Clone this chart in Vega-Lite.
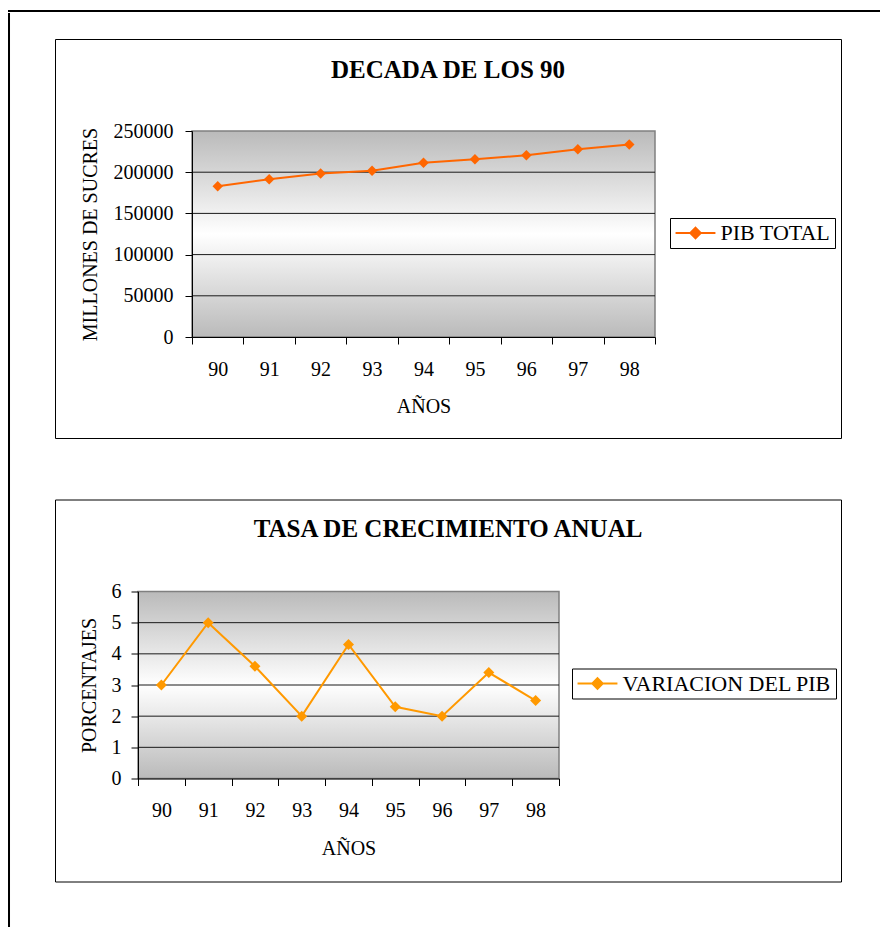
{
  "$schema": "https://vega.github.io/schema/vega-lite/v6.json",
  "background": "white",
  "padding": {"left": 8, "top": 10, "right": 0, "bottom": 0},
  "datasets": {
    "pib": [
      {"anio": 90, "valor": 182900, "serie": "PIB TOTAL"},
      {"anio": 91, "valor": 191400, "serie": "PIB TOTAL"},
      {"anio": 92, "valor": 198300, "serie": "PIB TOTAL"},
      {"anio": 93, "valor": 201900, "serie": "PIB TOTAL"},
      {"anio": 94, "valor": 211600, "serie": "PIB TOTAL"},
      {"anio": 95, "valor": 215600, "serie": "PIB TOTAL"},
      {"anio": 96, "valor": 220500, "serie": "PIB TOTAL"},
      {"anio": 97, "valor": 227800, "serie": "PIB TOTAL"},
      {"anio": 98, "valor": 233500, "serie": "PIB TOTAL"}
    ],
    "tasa": [
      {"anio": 90, "valor": 3.0, "serie": "VARIACION DEL PIB"},
      {"anio": 91, "valor": 5.0, "serie": "VARIACION DEL PIB"},
      {"anio": 92, "valor": 3.6, "serie": "VARIACION DEL PIB"},
      {"anio": 93, "valor": 2.0, "serie": "VARIACION DEL PIB"},
      {"anio": 94, "valor": 4.3, "serie": "VARIACION DEL PIB"},
      {"anio": 95, "valor": 2.3, "serie": "VARIACION DEL PIB"},
      {"anio": 96, "valor": 2.0, "serie": "VARIACION DEL PIB"},
      {"anio": 97, "valor": 3.4, "serie": "VARIACION DEL PIB"},
      {"anio": 98, "valor": 2.5, "serie": "VARIACION DEL PIB"}
    ]
  },
  "vconcat": [
    {
      "width": 875,
      "height": 0.01,
      "view": {"stroke": "#000", "strokeWidth": 2, "fill": null},
      "data": {"values": []},
      "mark": "point",
      "encoding": {}
    },
    {
      "hconcat": [
        {
          "width": 0.01,
          "height": 920,
          "view": {"stroke": "#000", "strokeWidth": 2, "fill": null},
          "data": {"values": []},
          "mark": "point",
          "encoding": {}
        },
        {
          "vconcat": [
            {
              "width": 1,
              "height": 24,
              "view": {"stroke": null, "fill": null},
              "data": {"values": []},
              "mark": "point",
              "encoding": {}
            },
            {
              "vconcat": [
                {
                  "width": 786,
                  "height": 399,
                  "view": {"stroke": "#000", "strokeWidth": 1, "fill": "#fff"},
                  "title": {"text": "DECADA DE LOS 90", "font": "Liberation Serif", "fontSize": 25, "fontWeight": "bold", "color": "#000", "anchor": "middle", "baseline": "alphabetic", "offset": -64},
                  "data": {"name": "pib"},
                  "layer": [
                    {
                      "data": {"values": [{}]},
                      "mark": {"type": "rect", "stroke": "#808080", "strokeWidth": 1.5, "fill": {"gradient": "linear", "x1": 0, "y1": 0, "x2": 0, "y2": 1, "stops": [{"offset": 0, "color": "#bababa"}, {"offset": 0.5, "color": "#ffffff"}, {"offset": 1, "color": "#bababa"}]}},
                      "encoding": {
                        "x": {"datum": 89.5, "type": "quantitative", "scale": {"domain": [89.5, 98.5], "range": [137, 600], "nice": false, "zero": false},
                          "axis": {"title": "AÑOS", "values": [89.5, 90.5, 91.5, 92.5, 93.5, 94.5, 95.5, 96.5, 97.5, 98.5], "labelExpr": "datum.value > 98 ? '' : format(datum.value + 0.5, 'd')", "labelOffset": 25.7, "labelFlush": false, "labelOverlap": false, "offset": -101, "zindex": 1, "grid": false, "domainColor": "#000", "tickColor": "#000", "tickSize": 7, "labelFont": "Liberation Serif", "labelFontSize": 20, "labelColor": "#000", "labelBaseline": "alphabetic", "labelPadding": 31, "titleFont": "Liberation Serif", "titleFontSize": 20, "titleFontWeight": "normal", "titleColor": "#000", "titleBaseline": "alphabetic", "titleY": 75}},
                        "x2": {"datum": 98.5},
                        "y": {"datum": 0, "type": "quantitative", "scale": {"domain": [0, 250000], "range": [298, 92], "nice": false, "zero": true},
                          "axis": {"title": "MILLONES DE SUCRES", "values": [0, 50000, 100000, 150000, 200000, 250000], "format": "d", "labelFlush": false, "labelOverlap": false, "offset": -137, "zindex": 1, "grid": false, "domainColor": "#000", "tickColor": "#000", "tickSize": 7, "labelFont": "Liberation Serif", "labelFontSize": 20, "labelColor": "#000", "labelPadding": 12, "titleFont": "Liberation Serif", "titleFontSize": 20, "titleFontWeight": "normal", "titleColor": "#000", "titleBaseline": "middle", "titleX": -102}},
                        "y2": {"datum": 250000}
                      }
                    },
                    {"data": {"values": [{}]}, "mark": {"type": "rule", "color": "#1a1a1a", "strokeWidth": 1}, "encoding": {"x": {"datum": 89.5, "type": "quantitative"}, "x2": {"datum": 98.5}, "y": {"datum": 50000, "type": "quantitative"}}},
                    {"data": {"values": [{}]}, "mark": {"type": "rule", "color": "#1a1a1a", "strokeWidth": 1}, "encoding": {"x": {"datum": 89.5, "type": "quantitative"}, "x2": {"datum": 98.5}, "y": {"datum": 100000, "type": "quantitative"}}},
                    {"data": {"values": [{}]}, "mark": {"type": "rule", "color": "#1a1a1a", "strokeWidth": 1}, "encoding": {"x": {"datum": 89.5, "type": "quantitative"}, "x2": {"datum": 98.5}, "y": {"datum": 150000, "type": "quantitative"}}},
                    {"data": {"values": [{}]}, "mark": {"type": "rule", "color": "#1a1a1a", "strokeWidth": 1}, "encoding": {"x": {"datum": 89.5, "type": "quantitative"}, "x2": {"datum": 98.5}, "y": {"datum": 200000, "type": "quantitative"}}},
                    {
                      "mark": {"type": "line", "strokeWidth": 2, "point": {"shape": "diamond", "size": 110, "filled": true}},
                      "encoding": {
                        "x": {"field": "anio", "type": "quantitative"},
                        "y": {"field": "valor", "type": "quantitative"},
                        "color": {"field": "serie", "type": "nominal", "scale": {"range": ["#FF6600"]},
                          "legend": {"title": null, "orient": "none", "legendX": 615, "legendY": 179, "padding": 4, "strokeColor": "#000", "fillColor": "#fff", "labelFont": "Liberation Serif", "labelFontSize": 22, "labelColor": "#000", "labelLimit": 500, "labelOffset": 14, "symbolOffset": 10.5, "symbolType": "M-2.1,0L2.1,0M0,-0.55L0.55,0L0,0.55L-0.55,0Z", "symbolSize": 361, "symbolStrokeWidth": 2, "symbolFillColor": "#FF6600", "symbolStrokeColor": "#FF6600"}}
                      }
                    }
                  ]
                },
                {
                  "width": 786,
                  "height": 382,
                  "view": {"stroke": "#000", "strokeWidth": 1, "fill": "#fff"},
                  "title": {"text": "TASA DE CRECIMIENTO ANUAL", "font": "Liberation Serif", "fontSize": 25, "fontWeight": "bold", "color": "#000", "anchor": "middle", "baseline": "alphabetic", "offset": -62},
                  "data": {"name": "tasa"},
                  "layer": [
                    {
                      "data": {"values": [{}]},
                      "mark": {"type": "rect", "stroke": "#808080", "strokeWidth": 1.5, "fill": {"gradient": "linear", "x1": 0, "y1": 0, "x2": 0, "y2": 1, "stops": [{"offset": 0, "color": "#bababa"}, {"offset": 0.5, "color": "#ffffff"}, {"offset": 1, "color": "#bababa"}]}},
                      "encoding": {
                        "x": {"datum": 89.5, "type": "quantitative", "scale": {"domain": [89.5, 98.5], "range": [83, 504], "nice": false, "zero": false},
                          "axis": {"title": "AÑOS", "values": [89.5, 90.5, 91.5, 92.5, 93.5, 94.5, 95.5, 96.5, 97.5, 98.5], "labelExpr": "datum.value > 98 ? '' : format(datum.value + 0.5, 'd')", "labelOffset": 23.4, "labelFlush": false, "labelOverlap": false, "offset": -103, "zindex": 1, "grid": false, "domainColor": "#000", "tickColor": "#000", "tickSize": 7, "labelFont": "Liberation Serif", "labelFontSize": 20, "labelColor": "#000", "labelBaseline": "alphabetic", "labelPadding": 31, "titleFont": "Liberation Serif", "titleFontSize": 20, "titleFontWeight": "normal", "titleColor": "#000", "titleBaseline": "alphabetic", "titleY": 76}},
                        "x2": {"datum": 98.5},
                        "y": {"datum": 0, "type": "quantitative", "scale": {"domain": [0, 6], "range": [279, 92], "nice": false, "zero": true},
                          "axis": {"title": "PORCENTAJES", "values": [0, 1, 2, 3, 4, 5, 6], "format": "d", "labelFlush": false, "labelOverlap": false, "offset": -83, "zindex": 1, "grid": false, "domainColor": "#000", "tickColor": "#000", "tickSize": 7, "labelFont": "Liberation Serif", "labelFontSize": 20, "labelColor": "#000", "labelPadding": 10, "titleFont": "Liberation Serif", "titleFontSize": 20, "titleFontWeight": "normal", "titleColor": "#000", "titleBaseline": "middle", "titleX": -49}},
                        "y2": {"datum": 6}
                      }
                    },
                    {"data": {"values": [{}]}, "mark": {"type": "rule", "color": "#1a1a1a", "strokeWidth": 1}, "encoding": {"x": {"datum": 89.5, "type": "quantitative"}, "x2": {"datum": 98.5}, "y": {"datum": 1, "type": "quantitative"}}},
                    {"data": {"values": [{}]}, "mark": {"type": "rule", "color": "#1a1a1a", "strokeWidth": 1}, "encoding": {"x": {"datum": 89.5, "type": "quantitative"}, "x2": {"datum": 98.5}, "y": {"datum": 2, "type": "quantitative"}}},
                    {"data": {"values": [{}]}, "mark": {"type": "rule", "color": "#1a1a1a", "strokeWidth": 1}, "encoding": {"x": {"datum": 89.5, "type": "quantitative"}, "x2": {"datum": 98.5}, "y": {"datum": 3, "type": "quantitative"}}},
                    {"data": {"values": [{}]}, "mark": {"type": "rule", "color": "#1a1a1a", "strokeWidth": 1}, "encoding": {"x": {"datum": 89.5, "type": "quantitative"}, "x2": {"datum": 98.5}, "y": {"datum": 4, "type": "quantitative"}}},
                    {"data": {"values": [{}]}, "mark": {"type": "rule", "color": "#1a1a1a", "strokeWidth": 1}, "encoding": {"x": {"datum": 89.5, "type": "quantitative"}, "x2": {"datum": 98.5}, "y": {"datum": 5, "type": "quantitative"}}},
                    {
                      "mark": {"type": "line", "strokeWidth": 2, "point": {"shape": "diamond", "size": 121, "filled": true}},
                      "encoding": {
                        "x": {"field": "anio", "type": "quantitative"},
                        "y": {"field": "valor", "type": "quantitative"},
                        "color": {"field": "serie", "type": "nominal", "scale": {"range": ["#FF9900"]},
                          "legend": {"title": null, "orient": "none", "legendX": 517, "legendY": 169, "padding": 4, "strokeColor": "#000", "fillColor": "#fff", "labelFont": "Liberation Serif", "labelFontSize": 22, "labelColor": "#000", "labelLimit": 500, "labelOffset": 14, "symbolOffset": 10.5, "symbolType": "M-2.1,0L2.1,0M0,-0.55L0.55,0L0,0.55L-0.55,0Z", "symbolSize": 361, "symbolStrokeWidth": 2, "symbolFillColor": "#FF9900", "symbolStrokeColor": "#FF9900"}}
                      }
                    }
                  ]
                }
              ],
              "spacing": 59.5,
              "resolve": {"scale": {"color": "independent"}}
            }
          ],
          "spacing": 0,
          "resolve": {"scale": {"color": "independent"}}
        }
      ],
      "spacing": 43,
      "resolve": {"scale": {"color": "independent"}}
    }
  ],
  "spacing": 0,
  "resolve": {"scale": {"color": "independent"}},
  "config": {
    "font": "Liberation Serif"
  }
}
